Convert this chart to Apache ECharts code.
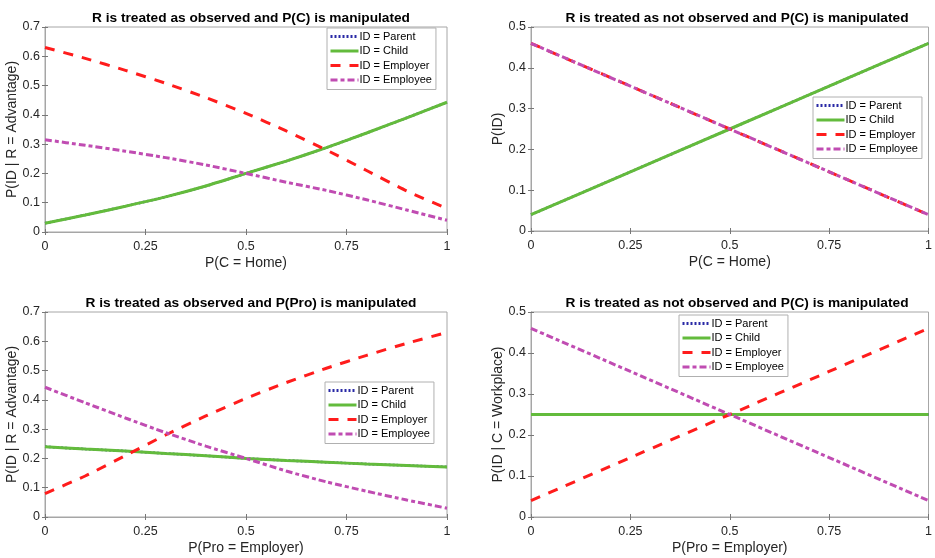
<!DOCTYPE html>
<html lang="en">
<head>
  <meta charset="UTF-8">
  <title>P(ID) under manipulation</title>
  <script src="https://cdn.jsdelivr.net/npm/echarts@6/dist/echarts.min.js"></script>
  <style>
    html, body { margin: 0; padding: 0; background: #fff; }
    #chart { width: 935px; height: 558px; }
  </style>
</head>
<body>
  <div id="chart"></div>
  <script>
    // --- data ---
    const idNames = ['ID = Parent', 'ID = Child', 'ID = Employer', 'ID = Employee'];
    const xTicks = [0, 0.25, 0.5, 0.75, 1];

    // panel 1: R observed, P(C) manipulated (x = P(C = Home))
    const xFine = [0, 0.1, 0.2, 0.3, 0.4, 0.5, 0.6, 0.7, 0.8, 0.9, 1];
    const p1Parent = [0.03, 0.058, 0.088, 0.12, 0.157, 0.2, 0.242, 0.288, 0.338, 0.39, 0.443];
    const p1Child = [0.03, 0.058, 0.088, 0.12, 0.157, 0.2, 0.242, 0.288, 0.338, 0.39, 0.443];
    const p1Employer = [0.63, 0.593, 0.552, 0.508, 0.459, 0.405, 0.345, 0.28, 0.21, 0.14, 0.08];
    const p1Employee = [0.315, 0.296, 0.276, 0.254, 0.229, 0.2, 0.17, 0.142, 0.11, 0.075, 0.04];

    // panel 2: R not observed, P(C) manipulated
    const p2Parent = [0.04, 0.145, 0.25, 0.355, 0.46];
    const p2Child = [0.04, 0.145, 0.25, 0.355, 0.46];
    const p2Employer = [0.46, 0.355, 0.25, 0.145, 0.04];
    const p2Employee = [0.46, 0.355, 0.25, 0.145, 0.04];

    // panel 3: R observed, P(Pro) manipulated (x = P(Pro = Employer))
    const p3Parent = [0.24, 0.232, 0.225, 0.217, 0.209, 0.2, 0.193, 0.187, 0.181, 0.176, 0.171];
    const p3Child = [0.24, 0.232, 0.225, 0.217, 0.209, 0.2, 0.193, 0.187, 0.181, 0.176, 0.171];
    const p3Employer = [0.08, 0.14, 0.21, 0.28, 0.345, 0.405, 0.459, 0.508, 0.552, 0.593, 0.63];
    const p3Employee = [0.443, 0.39, 0.338, 0.288, 0.242, 0.2, 0.157, 0.12, 0.088, 0.058, 0.03];

    // panel 4: R not observed, P(Pro) manipulated
    const p4Parent = [0.25, 0.25, 0.25, 0.25, 0.25];
    const p4Child = [0.25, 0.25, 0.25, 0.25, 0.25];
    const p4Employer = [0.04, 0.145, 0.25, 0.355, 0.46];
    const p4Employee = [0.46, 0.355, 0.25, 0.145, 0.04];

    const panels = [
      {
        title: 'R is treated as observed and P(C) is manipulated',
        xName: 'P(C = Home)', yName: 'P(ID | R = Advantage)', yMax: 0.7,
        xs: xFine, lines: [p1Parent, p1Child, p1Employer, p1Employee],
        grid: { left: 45, top: 27, width: 402, height: 205 },
        legend: { left: 327, top: 28 }
      },
      {
        title: 'R is treated as not observed and P(C) is manipulated',
        xName: 'P(C = Home)', yName: 'P(ID)', yMax: 0.5,
        xs: xTicks, lines: [p2Parent, p2Child, p2Employer, p2Employee],
        grid: { left: 531, top: 27, width: 402, height: 204 },
        legend: { left: 813, top: 97 }
      },
      {
        title: 'R is treated as observed and P(Pro) is manipulated',
        xName: 'P(Pro = Employer)', yName: 'P(ID | R = Advantage)', yMax: 0.7,
        xs: xFine, lines: [p3Parent, p3Child, p3Employer, p3Employee],
        grid: { left: 45, top: 312, width: 402, height: 205 },
        legend: { left: 325, top: 382 }
      },
      {
        title: 'R is treated as not observed and P(C) is manipulated',
        xName: 'P(Pro = Employer)', yName: 'P(ID | C = Workplace)', yMax: 0.5,
        xs: xTicks, lines: [p4Parent, p4Child, p4Employer, p4Employee],
        grid: { left: 531, top: 312, width: 402, height: 205 },
        legend: { left: 679, top: 315 }
      }
    ];

    // line look per ID (MATLAB-like)
    const lineLooks = [
      { color: '#2a2aa6', width: 2.5, type: [2, 2] },
      { color: '#63bb3c', width: 3, type: 'solid' },
      { color: '#ff1c1c', width: 3, type: [10, 9] },
      { color: '#c04cb2', width: 3, type: [7, 3, 4, 3] }
    ];

    const font = 'Arial, "Liberation Sans", Helvetica, sans-serif';
    const axisGrey = '#a6a6a6';
    const textDark = '#262626';

    const chart = echarts.init(document.getElementById('chart'), null, { renderer: 'canvas' });

    const grid = [], xAxis = [], yAxis = [], series = [], title = [], legend = [];

    panels.forEach((p, i) => {
      grid.push(Object.assign({ show: true, borderColor: axisGrey, borderWidth: 1, backgroundColor: '#fff' }, p.grid));

      title.push({
        text: p.title,
        left: p.grid.left + p.grid.width / 2,
        top: p.grid.top - 21,
        textAlign: 'center',
        textStyle: { fontFamily: font, fontSize: 13.7, fontWeight: 'bold', color: '#000' }
      });

      // bottom / left axes with labels
      xAxis.push({
        gridIndex: i, type: 'value', min: 0, max: 1, interval: 0.25,
        name: p.xName, nameLocation: 'middle', nameGap: 24,
        nameTextStyle: { fontFamily: font, fontSize: 14, color: textDark },
        axisLine: { show: true, lineStyle: { color: axisGrey } },
        axisTick: { show: true, inside: true, length: 3, lineStyle: { color: '#777' } },
        axisLabel: { fontFamily: font, fontSize: 12.5, color: textDark, margin: 8 },
        splitLine: { show: false }
      });
      yAxis.push({
        gridIndex: i, type: 'value', min: 0, max: p.yMax, interval: 0.1,
        name: p.yName, nameLocation: 'middle', nameGap: 23,
        nameTextStyle: { fontFamily: font, fontSize: 14, color: textDark },
        axisLine: { show: true, lineStyle: { color: axisGrey } },
        axisTick: { show: true, inside: true, length: 3, lineStyle: { color: '#777' } },
        axisLabel: { fontFamily: font, fontSize: 12.5, color: textDark, margin: 5 },
        splitLine: { show: false }
      });
    });

    // top / right axes only for the box ticks
    panels.forEach((p, i) => {
      xAxis.push({
        gridIndex: i, type: 'value', position: 'top', min: 0, max: 1, interval: 0.25,
        axisLine: { show: true, lineStyle: { color: axisGrey } },
        axisTick: { show: true, inside: true, length: 3, lineStyle: { color: '#777' } },
        axisLabel: { show: false }, splitLine: { show: false }
      });
      yAxis.push({
        gridIndex: i, type: 'value', position: 'right', min: 0, max: p.yMax, interval: 0.1,
        axisLine: { show: true, lineStyle: { color: axisGrey } },
        axisTick: { show: true, inside: true, length: 3, lineStyle: { color: '#777' } },
        axisLabel: { show: false }, splitLine: { show: false }
      });
    });

    panels.forEach((p, i) => {
      p.lines.forEach((vals, k) => {
        const look = lineLooks[k];
        series.push({
          name: idNames[k],
          type: 'line',
          xAxisIndex: i, yAxisIndex: i,
          data: p.xs.map((x, j) => [x, vals[j]]),
          symbol: 'none',
          smooth: 0.2,
          silent: true,
          color: look.color,
          lineStyle: { color: look.color, width: look.width, type: look.type }
        });
      });

      legend.push({
        data: idNames,
        orient: 'vertical',
        left: p.legend.left, top: p.legend.top,
        itemWidth: 28, itemHeight: 12, itemGap: 3.5,
        padding: [3, 4, 4, 2],
        backgroundColor: '#fff',
        borderColor: '#b0b0b0', borderWidth: 1, borderRadius: 0,
        selectedMode: false,
        itemStyle: { opacity: 0 },
        lineStyle: { width: 3 },
        textStyle: { fontFamily: font, fontSize: 11, color: '#000', padding: [0, 0, 0, -4] }
      });
    });

    chart.setOption({
      animation: false,
      backgroundColor: '#fff',
      title, grid, xAxis, yAxis, legend, series
    });
  </script>
</body>
</html>
